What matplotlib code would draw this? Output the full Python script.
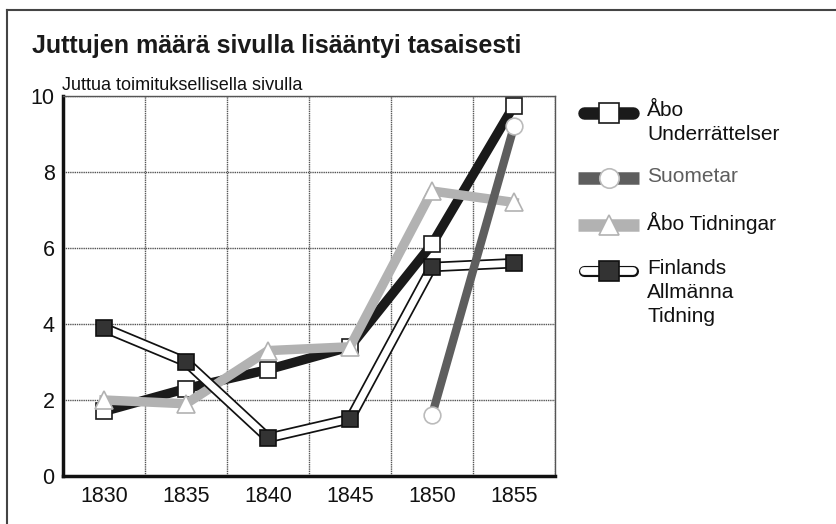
import matplotlib
matplotlib.use('Agg')
import matplotlib.pyplot as plt
from matplotlib.lines import Line2D
import numpy as np

plt.rcParams['font.family'] = ['Liberation Sans', 'DejaVu Sans']

years = ['1830', '1835', '1840', '1845', '1850', '1855']
abo_underrattelser = [1.7, 2.3, 2.8, 3.4, 6.1, 9.75]
suometar = [np.nan, np.nan, np.nan, np.nan, 1.6, 9.2]
abo_tidningar = [2.0, 1.9, 3.3, 3.4, 7.5, 7.2]
finlands_allm = [3.9, 3.0, 1.0, 1.5, 5.5, 5.6]
y_ticks = [0, 2, 4, 6, 8, 10]

W, H = 837, 524
fig = plt.figure(figsize=(W / 100, H / 100), dpi=100)
fig.patch.set_facecolor('white')

def fx(px):
    return px / W

def fy(py):
    return 1 - py / H

ax = fig.add_axes([fx(63), fy(476), fx(555) - fx(63), fy(96) - fy(476)])
x = np.arange(len(years))

# series lines
ax.plot(x, abo_underrattelser, color='#1a1a1a', lw=6.8, zorder=3,
        marker='s', ms=12, mfc='white', mec='#1a1a1a', mew=1.2)
ax.plot(x, abo_tidningar, color='#b2b2b2', lw=6.8, zorder=4,
        marker='^', ms=13, mfc='white', mec='#b2b2b2', mew=1.2)
ax.plot(x, finlands_allm, color='#111111', lw=7.5, zorder=5, solid_capstyle='butt')
ax.plot(x, finlands_allm, color='white', lw=5, zorder=5,
        marker='s', ms=12, mfc='#333333', mec='#111111', mew=1.2)
ax.plot(x, suometar, color='#5e5e5e', lw=6, zorder=6,
        marker='o', ms=12, mfc='white', mec='#bbbbbb', mew=1.2)

ax.set_xlim(-0.5, len(years) - 0.5)
ax.set_ylim(0, 10)
ax.set_xticks(x)
ax.set_xticklabels(years)
ax.set_xticks(np.arange(-0.5, len(years), 1), minor=True)
ax.set_yticks(y_ticks)
ax.tick_params(which='both', length=0, labelsize=15.5, colors='#111111')
ax.tick_params(axis='x', pad=7)
ax.tick_params(axis='y', pad=6)
ax.grid(False)
ax.grid(True, which='minor', axis='x', color='#555555', lw=1, ls=(0, (1, 0.6)))
ax.grid(True, which='major', axis='y', color='#555555', lw=1, ls=(0, (1, 0.6)))
ax.set_axisbelow(True)
for side in ['left', 'bottom']:
    ax.spines[side].set_linewidth(2.5)
    ax.spines[side].set_color('#111111')
for side in ['top', 'right']:
    ax.spines[side].set_linewidth(1)
    ax.spines[side].set_color('#555555')

# titles
fig.text(fx(32), fy(46), 'Juttujen määrä sivulla lisääntyi tasaisesti',
         fontsize=18, fontweight='bold', color='#1a1a1a', va='center', ha='left')
fig.text(fx(62), fy(85), 'Juttua toimituksellisella sivulla',
         fontsize=13, color='#111111', va='center', ha='left')

# frame lines (top and left only)
fig.add_artist(Line2D([fx(7), 1], [fy(10), fy(10)], transform=fig.transFigure,
                      color='#444444', lw=1.5))
fig.add_artist(Line2D([fx(7), fx(7)], [0, fy(10)], transform=fig.transFigure,
                      color='#444444', lw=1.5))

# legend drawn by hand
x0, x1 = fx(578), fx(639)
xm = (x0 + x1) / 2
cap = fx(6)
tx = fx(647)
entries = [
    (113, 'Åbo\nUnderrättelser', '#1a1a1a', 'white', '#1a1a1a', 's', '#111111'),
    (178, 'Suometar', '#5e5e5e', 'white', '#bbbbbb', 'o', '#5e5e5e'),
    (225, 'Åbo Tidningar', '#b2b2b2', 'white', '#b2b2b2', '^', '#111111'),
    (271, 'Finlands\nAllmänna\nTidning', None, '#333333', '#111111', 's', '#111111'),
]
for ypx, label, lc, mfc, mec, mk, tc in entries:
    y = fy(ypx)
    if lc is None:
        fig.add_artist(Line2D([x0 + cap, x1 - cap], [y, y], transform=fig.transFigure,
                              color='#111111', lw=8, solid_capstyle='round'))
        fig.add_artist(Line2D([x0 + cap, x1 - cap], [y, y], transform=fig.transFigure,
                              color='white', lw=5.6, solid_capstyle='round'))
    elif mk == 's':
        fig.add_artist(Line2D([x0 + cap, x1 - cap], [y, y], transform=fig.transFigure,
                              color=lc, lw=9, solid_capstyle='round'))
    else:
        fig.add_artist(Line2D([x0, x1], [y, y], transform=fig.transFigure,
                              color=lc, lw=9, solid_capstyle='butt'))
    fig.add_artist(Line2D([xm], [y], transform=fig.transFigure, marker=mk,
                          ms=14, mfc=mfc, mec=mec, mew=1.2, lw=0))
    for i, line in enumerate(label.split('\n')):
        fig.text(tx, fy(ypx - 2 + i * 24), line, fontsize=15, color=tc,
                 va='center', ha='left')

fig.savefig('out.png', dpi=100, facecolor='white')
